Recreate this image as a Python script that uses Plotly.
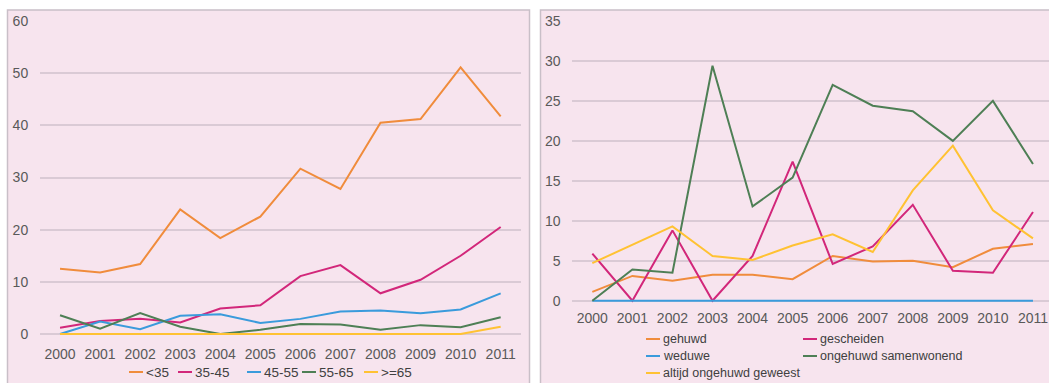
import plotly.graph_objects as go

W, H = 1049, 383

years = list(range(2000, 2012))

# Left chart: age groups
age_names = ["<35", "35-45", "45-55", "55-65", ">=65"]
age_lt35 = [12.5, 11.8, 13.4, 23.9, 18.4, 22.5, 31.7, 27.8, 40.5, 41.2, 51.1, 41.7]
age_35_45 = [1.2, 2.5, 2.9, 2.2, 4.9, 5.5, 11.1, 13.2, 7.8, 10.4, 15.0, 20.5]
age_45_55 = [0.0, 2.4, 0.9, 3.5, 3.8, 2.1, 2.9, 4.3, 4.5, 4.0, 4.7, 7.8]
age_55_65 = [3.6, 1.0, 4.0, 1.4, 0.0, 0.8, 1.9, 1.8, 0.8, 1.7, 1.3, 3.2]
age_ge65 = [0, 0, 0, 0, 0, 0, 0, 0, 0, 0, 0, 1.4]
age_values = [age_lt35, age_35_45, age_45_55, age_55_65, age_ge65]

# Right chart: marital status
civ_names = ["gehuwd", "gescheiden", "weduwe", "ongehuwd samenwonend", "altijd ongehuwd geweest"]
civ_gehuwd = [1.1, 3.1, 2.5, 3.25, 3.25, 2.7, 5.6, 4.9, 5.0, 4.2, 6.5, 7.1]
civ_gescheiden = [5.9, 0.0, 8.8, 0.0, 5.6, 17.4, 4.6, 6.8, 12.0, 3.75, 3.5, 11.1]
civ_weduwe = [0, 0, 0, 0, 0, 0, 0, 0, 0, 0, 0, 0]
civ_samenwonend = [0.0, 3.9, 3.5, 29.4, 11.8, 15.4, 27.0, 24.4, 23.7, 20.0, 25.0, 17.1]
civ_altijd = [4.7, 7.0, 9.3, 5.6, 5.1, 6.9, 8.3, 6.1, 13.8, 19.4, 11.3, 7.8]
civ_values = [civ_gehuwd, civ_gescheiden, civ_weduwe, civ_samenwonend, civ_altijd]

left_ticks = [0, 10, 20, 30, 40, 50, 60]
right_ticks = [0, 5, 10, 15, 20, 25, 30, 35]

# Styles
age_colors = ["#F08C3C", "#D2277A", "#3A9BDC", "#4E7F55", "#FFC233"]
civ_colors = ["#F08C3C", "#D2277A", "#3A9BDC", "#4E7F55", "#FFC233"]
bg_pink = "#F7E4EE"
border = "#C9BFC8"
grid = "#DACAD5"
tick_color = "#595959"
legend_text = "#404040"
FONT = "Liberation Sans, Arial, sans-serif"
TICK_SIZE = 14


def px(x):
    return x / W


def py(y):
    return 1 - y / H


fig = go.Figure()

for name, vals, col in zip(age_names, age_values, age_colors):
    fig.add_trace(go.Scatter(x=years, y=vals, mode="lines", name=name,
                             line=dict(color=col, width=2), xaxis="x", yaxis="y",
                             showlegend=False, hoverinfo="x+y+name"))
for name, vals, col in zip(civ_names, civ_values, civ_colors):
    fig.add_trace(go.Scatter(x=years, y=vals, mode="lines", name=name,
                             line=dict(color=col, width=2), xaxis="x2", yaxis="y2",
                             showlegend=False, hoverinfo="x+y+name"))

# Plot area geometry (pixels)
L_x0, L_x1 = 40.0, 520.7
L_top, L_bot = 21.0, 334.0
R_x0 = 572.3
R_top, R_bot = 21.0, 300.7
step = (L_x1 - L_x0) / 12.0
PAD = 3.0  # extra pixels below zero so lines at 0 are not clipped

L_unit = 60 / (L_bot - L_top)
R_unit = 35 / (R_bot - R_top)

axis_common = dict(showline=False, zeroline=False, automargin=False,
                   tickfont=dict(family=FONT, size=TICK_SIZE, color=tick_color))

fig.update_layout(
    width=W, height=H,
    margin=dict(l=0, r=0, t=0, b=0, pad=0, autoexpand=False),
    paper_bgcolor="white",
    plot_bgcolor="rgba(0,0,0,0)",
    xaxis=dict(domain=[px(L_x0), px(L_x1)], range=[1999.5, 2011.5],
               tickvals=years, showgrid=False, ticks="outside", ticklen=4,
               tickcolor="rgba(0,0,0,0)", anchor="y", **axis_common),
    yaxis=dict(domain=[py(L_bot + PAD), py(L_top)], range=[-PAD * L_unit, 60],
               tickvals=left_ticks, showgrid=True, gridcolor=grid, gridwidth=1.5,
               ticks="outside", ticklen=8, tickcolor="rgba(0,0,0,0)", anchor="x",
               **axis_common),
    xaxis2=dict(domain=[px(R_x0), 1.0],
                range=[1999.5, 1999.5 + (W - R_x0) / step],
                tickvals=years, showgrid=False, ticks="outside", ticklen=1,
                tickcolor="rgba(0,0,0,0)", anchor="y2", **axis_common),
    yaxis2=dict(domain=[py(R_bot + PAD), py(R_top)], range=[-PAD * R_unit, 35],
                tickvals=right_ticks, showgrid=True, gridcolor=grid, gridwidth=1.5,
                ticks="outside", ticklen=8, tickcolor="rgba(0,0,0,0)", anchor="x2",
                **axis_common),
    showlegend=False,
)

shapes = [
    dict(type="rect", xref="paper", yref="paper", x0=px(7.5), x1=px(529.5),
         y0=py(390), y1=py(10), fillcolor=bg_pink, line=dict(color=border, width=1.5),
         layer="below"),
    dict(type="rect", xref="paper", yref="paper", x0=px(540.5), x1=px(1060),
         y0=py(390), y1=py(10), fillcolor=bg_pink, line=dict(color=border, width=1.5),
         layer="below"),
]
annotations = []

# Manual legends (line sample + text)
left_legend_pos = [(129, 372), (178, 372), (247, 372), (302, 372), (364, 372)]
right_legend_pos = [(646, 339), (803, 339), (646, 356), (803, 356), (646, 373)]
seg = 14

for names, colors, pos, fsize in [(age_names, age_colors, left_legend_pos, 13.5),
                                  (civ_names, civ_colors, right_legend_pos, 12.5)]:
    for name, col, (x, y) in zip(names, colors, pos):
        shapes.append(dict(type="line", xref="paper", yref="paper",
                           x0=px(x), x1=px(x + seg), y0=py(y), y1=py(y),
                           line=dict(color=col, width=2)))
        annotations.append(dict(xref="paper", yref="paper", x=px(x + seg + 1), y=py(y),
                                text=name, showarrow=False, xanchor="left",
                                yanchor="middle",
                                font=dict(family=FONT, size=fsize, color=legend_text)))

fig.update_layout(shapes=shapes, annotations=annotations)

fig.write_html("out.html")
